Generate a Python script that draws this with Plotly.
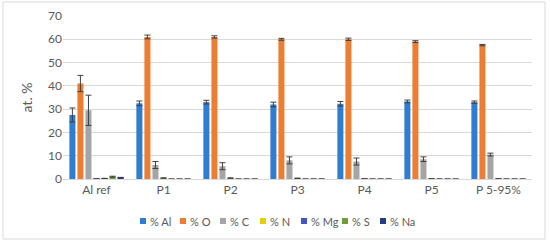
import plotly.graph_objects as go

categories = ["Al ref", "P1", "P2", "P3", "P4", "P5", "P 5-95%"]
series_names = ["% Al", "% O", "% C", "% N", "% Mg", "% S", "% Na"]

al_vals = [27.5, 32.5, 33.0, 32.0, 32.3, 33.3, 33.0]
al_err = [3.0, 1.0, 0.8, 1.0, 1.0, 0.6, 0.5]
o_vals = [41.0, 61.0, 61.0, 60.0, 60.0, 59.0, 57.5]
o_err = [3.5, 0.8, 0.5, 0.4, 0.5, 0.4, 0.3]
c_vals = [29.5, 6.0, 5.5, 8.0, 7.5, 8.5, 10.5]
c_err = [6.5, 1.5, 1.5, 1.5, 1.5, 1.0, 0.6]
n_vals = [0.1, 0.4, 0.4, 0.3, 0.1, 0.1, 0.1]
n_err = [None, 0.1, 0.1, 0.1, None, None, None]
mg_vals = [0.2, 0.0, 0.0, 0.0, 0.0, 0.0, 0.0]
mg_err = [0.1, None, None, None, None, None, None]
s_vals = [1.0, 0.0, 0.0, 0.0, 0.0, 0.0, 0.0]
s_err = [0.2, None, None, None, None, None, None]
na_vals = [0.6, 0.0, 0.0, 0.0, 0.0, 0.0, 0.0]
na_err = [0.1, None, None, None, None, None, None]

y_ticks = [0, 10, 20, 30, 40, 50, 60, 70]

colors = ["#2E7DD1", "#ED7D31", "#A5A5A5", "#E2D000", "#4455CC", "#6E9E3C", "#263C82"]
values = [al_vals, o_vals, c_vals, n_vals, mg_vals, s_vals, na_vals]
errors = [al_err, o_err, c_err, n_err, mg_err, s_err, na_err]

W, H = 550, 243
ML, MR, MT, MB = 63, 18, 16, 64
PW, PH = W - ML - MR, H - MT - MB


def px(x):
    return (x - ML) / PW


def py(y):
    return (H - MB - y) / PH


fig = go.Figure()
for name, vals, errs, col in zip(series_names, values, errors, colors):
    fig.add_trace(go.Bar(
        x=categories, y=vals, name=name, marker_color=col,
        marker_line_width=0,
        error_y=dict(type="data", array=errs, visible=True,
                     color="#404040", thickness=1, width=3),
    ))

txt = "#595959"
fig.update_layout(
    width=W, height=H,
    barmode="group", bargap=0.16, bargroupgap=0.25,
    paper_bgcolor="white", plot_bgcolor="white",
    margin=dict(l=ML, r=MR, t=MT, b=MB, autoexpand=False),
    font=dict(family="Lato, Carlito, sans-serif", color=txt, size=12),
    xaxis=dict(showline=True, linecolor="#D9D9D9", linewidth=1,
               tickfont=dict(size=12, color=txt), ticks=""),
    yaxis=dict(range=[0, 70], tickvals=y_ticks, showgrid=True,
               gridcolor="#D9D9D9", gridwidth=1, zeroline=False,
               tickfont=dict(size=12, color=txt), ticks="",
               title=dict(text="at. %", font=dict(size=14, color=txt), standoff=12)),
    showlegend=False,
)

# manual legend (compact, like the original)
legend_x = [140, 180, 220, 260, 301, 342, 380]
legend_y = 221
for name, col, lx in zip(series_names, colors, legend_x):
    fig.add_shape(type="rect", xref="paper", yref="paper",
                  x0=px(lx), x1=px(lx + 6), y0=py(legend_y + 3), y1=py(legend_y - 3),
                  line=dict(width=0), fillcolor=col)
    fig.add_annotation(xref="paper", yref="paper", x=px(lx + 8), y=py(legend_y),
                       text=name, showarrow=False, xanchor="left", yanchor="middle",
                       font=dict(size=11, color=txt))

fig.add_shape(type="rect", xref="paper", yref="paper",
              x0=px(3), x1=px(545), y0=py(239), y1=py(2),
              line=dict(color="#D9D9D9", width=1), fillcolor="rgba(0,0,0,0)",
              layer="below")
fig.write_html("out.html", config={"displayModeBar": False})

with open("out.html", "r", encoding="utf-8") as f:
    html = f.read()
html = html.replace("<head>", "<head><style>html,body{margin:0;padding:0;overflow:hidden;}</style>", 1)
with open("out.html", "w", encoding="utf-8") as f:
    f.write(html)
